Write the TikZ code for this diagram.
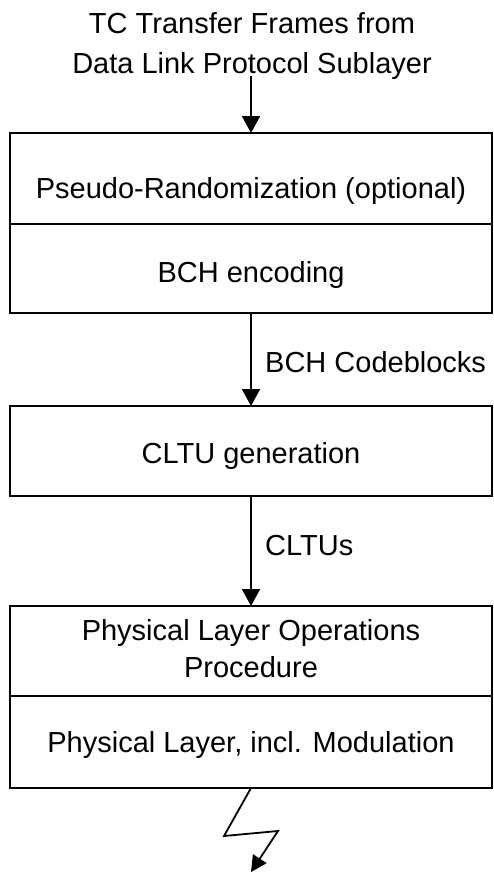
\documentclass[tikz,border=0pt]{standalone}
\usepackage{fontspec}
\setmainfont{Liberation Sans}
\usetikzlibrary{arrows.meta}
\begin{document}
\begin{tikzpicture}[x=1pt,y=-1pt,
  box/.style={draw, line width=2.5pt, rectangle, minimum width=482pt, inner sep=0pt, outer sep=0pt},
  txt/.style={anchor=base, inner sep=0pt, font=\fontsize{29}{35}\selectfont},
  flow/.style={line width=2pt, -{Triangle[length=17pt,width=18pt]}}]
\useasboundingbox (0,0) rectangle (493,873);
% source text
\node[txt] (srcA) at (252,33) {TC Transfer Frames from};
\node[txt] (srcB) at (252,73) {Data Link Protocol Sublayer};
% boxes
\node[box, minimum height=91pt] (rand) at (251,178.5) {};
\node[box, minimum height=89pt] (bch) at (251,268.5) {};
\node[box, minimum height=90pt] (cltu) at (251,451) {};
\node[box, minimum height=90pt] (plop) at (251,651) {};
\node[box, minimum height=92pt] (phy) at (251,742) {};
% box texts
\node[txt] (randT) at (251,198) {Pseudo-Randomization (optional)};
\node[txt] (bchT) at (251,282) {BCH encoding};
\node[txt] (cltuT) at (251,463) {CLTU generation};
\node[txt] (plopA) at (251,640) {Physical Layer Operations};
\node[txt] (plopB) at (251,677) {Procedure};
\node[txt] (phyT) at (251,752) {Physical Layer, incl. Modulation};
% connector labels
\node[txt, anchor=base west] (lab1) at (265,372) {BCH Codeblocks};
\node[txt, anchor=base west] (lab2) at (265,555) {CLTUs};
% connectors
\coordinate (in) at (251,76);
\draw[flow] (in) -- (rand.north);
\draw[flow] (bch.south) -- (cltu.north);
\draw[flow] (cltu.south) -- (plop.north);
% lightning
\coordinate (z1) at (224,836);
\coordinate (z2) at (278,831);
\coordinate (out) at (251,872);
\draw[line width=1.8pt, -{Triangle[length=16pt,width=16pt]}] (phy.south) -- (z1) -- (z2) -- (out);
\end{tikzpicture}
\end{document}
